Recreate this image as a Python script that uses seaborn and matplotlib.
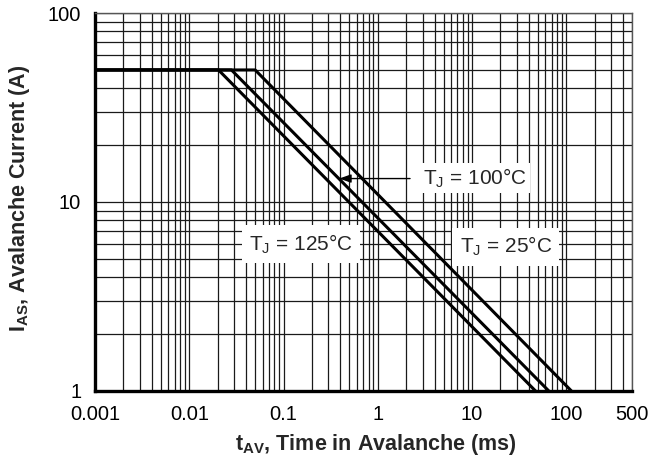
import matplotlib
matplotlib.use("Agg")
import matplotlib.pyplot as plt
from matplotlib.ticker import FixedLocator, LogLocator, NullFormatter
import pandas as pd
import seaborn as sns

# Avalanche current vs. time in avalanche, three junction temperatures
t_25c = [0.001, 0.05, 113]
i_25c = [50, 50, 1]
t_100c = [0.001, 0.028, 65]
i_100c = [50, 50, 1]
t_125c = [0.001, 0.0204, 47]
i_125c = [50, 50, 1]

x_ticks = [0.001, 0.01, 0.1, 1, 10, 100, 500]
x_tick_labels = ["0.001", "0.01", "0.1", "1", "10", "100", "500"]
y_ticks = [1, 10, 100]
y_tick_labels = ["1", "10", "100"]

sns.set_style("white")
plt.rcParams["font.family"] = ["Liberation Sans", "DejaVu Sans"]
plt.rcParams["mathtext.fontset"] = "custom"
plt.rcParams["mathtext.rm"] = "Liberation Sans"
plt.rcParams["mathtext.bf"] = "Liberation Sans:bold"

frames = []
for name, t, i in [("25", t_25c, i_25c), ("100", t_100c, i_100c), ("125", t_125c, i_125c)]:
    frames.append(pd.DataFrame({"t": t, "i": i, "tj": name}))
df = pd.concat(frames, ignore_index=True)

fig = plt.figure(figsize=(6.51, 4.68), dpi=100)
ax = fig.add_axes([0.146, 0.165, 0.825, 0.807])

sns.lineplot(data=df, x="t", y="i", units="tj", estimator=None, sort=False,
             color="black", linewidth=2.2, ax=ax, zorder=5)

ax.set_xscale("log")
ax.set_yscale("log")
ax.set_xlim(0.001, 500)
ax.set_ylim(1, 100)

ax.xaxis.set_major_locator(FixedLocator(x_ticks))
ax.set_xticklabels(x_tick_labels)
ax.xaxis.set_minor_locator(LogLocator(base=10, subs=range(2, 10), numticks=20))
ax.xaxis.set_minor_formatter(NullFormatter())
ax.yaxis.set_major_locator(FixedLocator(y_ticks))
ax.set_yticklabels(y_tick_labels)
ax.yaxis.set_minor_locator(LogLocator(base=10, subs=range(2, 10), numticks=20))
ax.yaxis.set_minor_formatter(NullFormatter())

ax.grid(True, which="both", color="#1a1a1a", linewidth=0.9)
ax.tick_params(axis="both", which="both", length=0, labelsize=14.5, colors="black")
ax.tick_params(axis="x", pad=10)
ax.tick_params(axis="y", pad=10)

for side in ["left", "bottom"]:
    ax.spines[side].set_linewidth(2.4)
    ax.spines[side].set_color("black")
for side in ["top", "right"]:
    ax.spines[side].set_linewidth(1.0)
    ax.spines[side].set_color("#555555")

ax.set_xlabel(r"t$_{\mathbf{AV}}$, Time in Avalanche (ms)", fontsize=15.5, fontweight="bold")
ax.set_ylabel(r"I$_{\mathbf{AS}}$, Avalanche Current (A)", fontsize=15.5, fontweight="bold")
ax.xaxis.set_label_coords(0.523, -0.11)
ax.yaxis.set_label_coords(-0.117, 0.51)

box = dict(boxstyle="square,pad=0.15", facecolor="white", edgecolor="none")
ax.text(3.0, 13.4, r"T$_\mathregular{J}$ = 100°C", fontsize=15, va="center", ha="left",
        bbox=box, zorder=6)
ax.annotate("", xy=(0.39, 13.3), xytext=(2.2, 13.3),
            arrowprops=dict(arrowstyle="-|>,head_length=0.7,head_width=0.25",
                            color="black", lw=1.0, shrinkA=0, shrinkB=0),
            zorder=6)
ax.text(0.043, 6.0, r"T$_\mathregular{J}$ = 125°C", fontsize=15, va="center", ha="left",
        bbox=dict(boxstyle="square,pad=0.35", facecolor="white", edgecolor="none"), zorder=4)
ax.text(7.4, 5.8, r"T$_\mathregular{J}$ = 25°C", fontsize=15, va="center", ha="left",
        bbox=dict(boxstyle="square,pad=0.35", facecolor="white", edgecolor="none"), zorder=4)

fig.savefig("out.png", dpi=100)
